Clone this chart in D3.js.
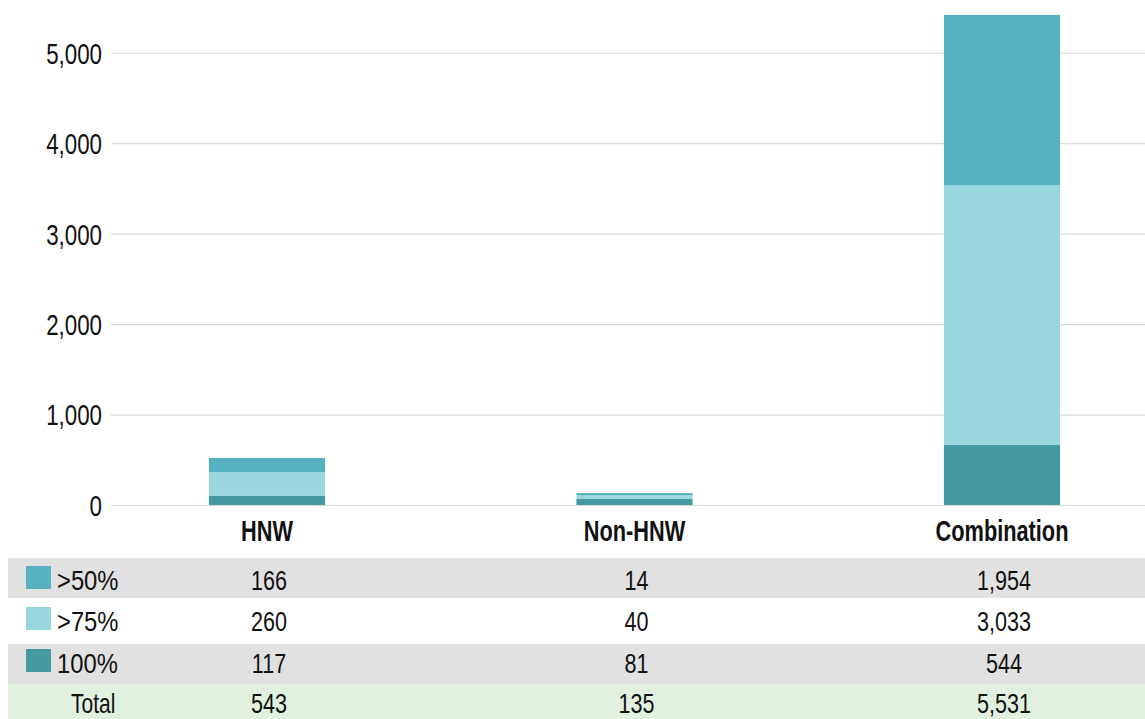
<!DOCTYPE html>
<html>
<head>
<meta charset="utf-8">
<script src="https://cdn.jsdelivr.net/npm/d3@7"></script>
<style>
  body { margin: 0; background: #fff; }
  svg text { font-family: "Liberation Sans", Arial, sans-serif; fill: #111; }
</style>
</head>
<body>
<svg id="chart" width="1145" height="719"></svg>
<script>
(function() {
    var width = 1145, height = 719
    var squeeze = 0.77 // fake a condensed face by narrowing text horizontally

    // categories along x
    const categories = ["HNW", "Non-HNW", "Combination"]
    // bar segments (bottom to top)
    const bar100 = [100, 66, 663]
    const bar75 = [265, 41, 2875]
    const bar50 = [155, 25, 1880]
    // table underneath
    const rowLabels = [">50%", ">75%", "100%", "Total"]
    const table50 = [166, 14, 1954]
    const table75 = [260, 40, 3033]
    const table100 = [117, 81, 544]
    const totals = [543, 135, 5531]
    const yTicks = [0, 1000, 2000, 3000, 4000, 5000]

    const colors = { p50: "#55b3c1", p75: "#98d7de", p100: "#4499a2" }

    const data = categories.map((c, i) => ({ name: c, p100: bar100[i], p75: bar75[i], p50: bar50[i] }))

    const svg = d3.select("#chart")

    var x = d3.scaleBand()
        .domain(categories)
        .range([111, 1158])
        .paddingInner(0.684)
        .paddingOuter(0.2665)

    var y = d3.scaleLinear()
        .domain([0, 5583])
        .range([505, 0])

    // gridlines + tick labels
    svg.append("g")
        .attr("transform", "translate(111,0)")
        .call(d3.axisLeft(y).tickValues(yTicks).tickFormat(d3.format(",")).tickSize(-(width - 111)))
        .call(g => g.select(".domain").remove())
        .call(g => g.selectAll(".tick line").attr("stroke", "#dadada").attr("stroke-width", 1.2))
        .call(g => g.selectAll(".tick text")
            .attr("x", -9 / squeeze)
            .attr("dy", "0.36em")
            .attr("transform", `scale(${squeeze},1)`)
            .attr("font-size", 29).attr("fill", "#111")
            .attr("font-family", "Liberation Sans, Arial, sans-serif"))

    // stacked bars
    const stack = d3.stack().keys(["p100", "p75", "p50"])(data)
    svg.append("g")
        .selectAll("g")
        .data(stack)
        .join("g")
            .attr("fill", d => colors[d.key])
        .selectAll("rect")
        .data(d => d)
        .join("rect")
            .attr("x", d => x(d.data.name))
            .attr("y", d => y(d[1]))
            .attr("width", x.bandwidth())
            .attr("height", d => y(d[0]) - y(d[1]))

    // category labels
    svg.append("g")
        .selectAll("text")
        .data(categories)
        .join("text")
            .attr("transform", d => `translate(${x(d) + x.bandwidth() / 2},541) scale(0.75,1)`)
            .attr("text-anchor", "middle")
            .attr("font-size", 29)
            .attr("font-weight", "bold")
            .text(d => d)

    // data table
    const rows = [
        { label: rowLabels[0], key: "p50", vals: table50, bg: "#e1e1e1" },
        { label: rowLabels[1], key: "p75", vals: table75, bg: "#ffffff" },
        { label: rowLabels[2], key: "p100", vals: table100, bg: "#e1e1e1" },
        { label: rowLabels[3], key: null, vals: totals, bg: "#e2f0df" }
    ]
    const rowEdges = [558, 598, 644, 684, 719]
    const baselines = [590, 631, 673, 713]
    const fmt = d3.format(",")

    const row = svg.append("g")
        .selectAll("g")
        .data(rows)
        .join("g")

    row.append("rect")
        .attr("x", 8)
        .attr("y", (d, i) => rowEdges[i])
        .attr("width", width - 8)
        .attr("height", (d, i) => rowEdges[i + 1] - rowEdges[i])
        .attr("fill", d => d.bg)

    row.filter(d => d.key)
        .append("rect")
            .attr("x", 26)
            .attr("y", (d, i) => baselines[i] - 24)
            .attr("width", 25)
            .attr("height", 23)
            .attr("fill", d => colors[d.key])

    // % glyphs in the original face are wider, so squeeze those labels less
    row.append("text")
        .attr("transform", (d, i) => `translate(${d.key ? 57 : 71},${baselines[i]}) scale(${d.key ? 0.85 : 0.75},1)`)
        .attr("font-size", 28)
        .text(d => d.label)

    row.each(function(r, ri) {
        d3.select(this).selectAll("text.val")
            .data(r.vals)
            .join("text")
                .attr("class", "val")
                .attr("transform", (d, i) => `translate(${x(categories[i]) + x.bandwidth() / 2 + 2},${baselines[ri]}) scale(${squeeze},1)`)
                .attr("text-anchor", "middle")
                .attr("font-size", 28)
                .text(d => fmt(d))
    })
})();
</script>
</body>
</html>
